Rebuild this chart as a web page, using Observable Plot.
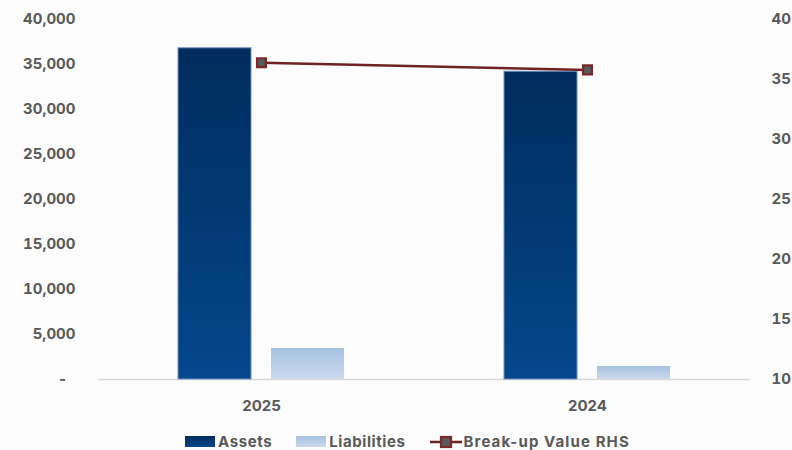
<!DOCTYPE html>
<html>
<head>
<meta charset="utf-8">
<script src="https://cdn.jsdelivr.net/npm/d3@7"></script>
<script src="https://cdn.jsdelivr.net/npm/@observablehq/plot@0.6"></script>
<style>
  body { margin: 0; background: #fcfcfd; font-family: Inter, "Open Sans", sans-serif; }
  #wrap { position: relative; width: 792px; height: 420px; }
  #wrap svg { position: absolute; left: 0; top: 0; background: transparent; }
  #legend { display: flex; gap: 0; margin-left: 185px; margin-top: 12px; font: 700 15px Inter, sans-serif; letter-spacing: 0.6px; color: #595959; align-items: center; }
  .item { display: flex; align-items: center; margin-right: 24px; }
  .item.wide { letter-spacing: 1.1px; }
  .sw { width: 30px; height: 11px; margin-right: 3px; }
</style>
</head>
<body>
<div id="wrap"></div>
<div id="legend"></div>
<script>
const years = ["2025", "2024"];
const seriesNames = ["Assets", "Liabilities"];
const assets = [36800, 34200];
const liabilities = [3450, 1450];
const breakUp = [36.4, 35.8];
const leftTicks = [0, 5000, 10000, 15000, 20000, 25000, 30000, 35000, 40000];
const rightTicks = [10, 15, 20, 25, 30, 35, 40];
const lineLabel = "Break-up Value RHS";

const bars = [];
years.forEach((y, i) => {
  bars.push({year: y, series: "Assets", value: assets[i]});
  bars.push({year: y, series: "Liabilities", value: liabilities[i]});
});
const linePts = years.map((y, i) => ({year: y, value: breakUp[i]}));

const W = 792, H = 420;
const M = {top: 19, right: 42, bottom: 41, left: 97};
const font = "700 15px Inter, sans-serif";

const p1 = Plot.plot({
  width: W, height: H,
  marginTop: M.top, marginRight: M.right, marginBottom: M.bottom, marginLeft: M.left,
  style: {background: "transparent", font, color: "#595959"},
  fx: {domain: years, padding: 0, label: null, tickSize: 0, tickPadding: 21},
  x: {domain: seriesNames, paddingInner: 0.21, paddingOuter: 0.85, axis: null},
  y: {domain: [0, 40000], label: null},
  marks: [
    Plot.axisY(leftTicks, {tickSize: 0, tickPadding: 23, label: null,
      tickFormat: d => d === 0 ? "-\u00a0\u00a0" : d3.format(",")(d), fill: "#595959"}),
    Plot.ruleY([0], {stroke: "#d9d9d9", strokeWidth: 1.5}),
    Plot.barY(bars, {fx: "year", x: "series", y: "value",
      fill: d => d.series === "Assets" ? "url(#gA)" : "url(#gL)",
      stroke: d => d.series === "Assets" ? "#7090bd" : "none", strokeWidth: 1})
  ]
});
const defs = `<defs>
<linearGradient id="gA" x1="0" y1="0" x2="0" y2="1"><stop offset="0" stop-color="#002c5d"/><stop offset="1" stop-color="#04478b"/></linearGradient>
<linearGradient id="gL" x1="0" y1="0" x2="0" y2="1"><stop offset="0" stop-color="#a6c1e2"/><stop offset="1" stop-color="#cbdaec"/></linearGradient>
</defs>`;
p1.insertAdjacentHTML("afterbegin", defs);

const p2 = Plot.plot({
  width: W, height: H,
  marginTop: M.top, marginRight: M.right, marginBottom: M.bottom, marginLeft: M.left,
  style: {background: "transparent", font, color: "#595959"},
  x: {domain: years, type: "band", padding: 0, axis: null},
  y: {domain: [10, 40], label: null},
  marks: [
    Plot.axisY(rightTicks, {anchor: "right", tickSize: 0, tickPadding: 21, label: null, fill: "#595959"}),
    Plot.line(linePts, {x: "year", y: "value", stroke: "#6e2222", strokeWidth: 2.5}),
    Plot.dot(linePts, {x: "year", y: "value", symbol: "square", r: 5, fill: "#5a5a5a", stroke: "#7a2828", strokeWidth: 2.2})
  ]
});

const wrap = document.getElementById("wrap");
wrap.appendChild(p1);
wrap.appendChild(p2);

const legend = document.getElementById("legend");
legend.innerHTML = `
<div class="item"><div class="sw" style="background:linear-gradient(#002c5d,#04478b)"></div>Assets</div>
<div class="item"><div class="sw" style="background:linear-gradient(#a6c1e2,#cbdaec)"></div>Liabilities</div>
<div class="item wide"><svg width="32" height="14" style="margin-right:2px"><line x1="0" y1="7" x2="32" y2="7" stroke="#6e2222" stroke-width="2.5"/><rect x="11" y="2" width="10" height="10" fill="#5a5a5a" stroke="#7a2828" stroke-width="2.2"/></svg>${lineLabel}</div>`;
</script>
</body>
</html>
